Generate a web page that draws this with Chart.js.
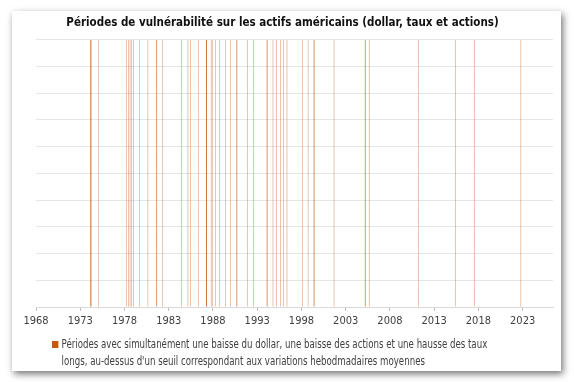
<!DOCTYPE html>
<html>
<head>
<meta charset="utf-8">
<script src="https://cdn.jsdelivr.net/npm/chart.js@4.4.0/dist/chart.umd.min.js"></script>
<style>
  body { margin: 0; background: #fff; width: 574px; height: 382px; overflow: hidden; }
  #card { position: absolute; left: 12px; top: 11px; width: 549px; height: 360px; background: #fff; box-shadow: 2px 3px 7px rgba(0,0,0,0.55); }
  #myChart { position: absolute; left: 0; top: 0; }
  #legend { position: absolute; left: 40px; top: 325px; display: flex; color: #404040; line-height: 17px; white-space: nowrap;
            font-family: 'DejaVu Sans Condensed', Roboto, sans-serif; font-size: 12px;
            transform: scaleX(0.8); transform-origin: 0 0; }
  #legend .box { flex: none; width: 8px; height: 7px; background: #C55A11; margin: 5px 4px 0 0; }
</style>
</head>
<body>
<div id="card">
  <canvas id="myChart" width="549" height="360"></canvas>
  <div id="legend"><span class="box"></span><span id="legendText"></span></div>
</div>
<script>
var title = 'Périodes de vulnérabilité sur les actifs américains (dollar, taux et actions)';
var legendLines = [
    'Périodes avec simultanément une baisse du dollar, une baisse des actions et une hausse des taux',
    'longs, au-dessus d\'un seuil correspondant aux variations hebodmadaires moyennes'
];
var tickYears = [1968, 1973, 1978, 1983, 1988, 1993, 1998, 2003, 2008, 2013, 2018, 2023];

// semaines signalées (vendredi approx.)
var weeks = [
    '1974-02-22', '1974-03-01', '1974-03-29', '1975-02-07', '1978-03-14', '1978-06-06', '1978-08-18', '1978-10-06', '1979-01-19', '1979-09-17',
    '1980-08-26', '1981-08-25', '1981-09-01', '1982-05-04', '1984-06-05', '1985-03-05', '1985-06-11', '1986-05-06', '1987-03-31', '1987-04-07',
    '1987-04-14', '1987-04-21', '1987-10-16', '1987-12-04', '1988-04-22', '1988-10-05', '1989-05-26', '1989-12-19', '1990-08-24', '1990-09-21',
    '1991-11-19', '1992-08-07', '1994-02-08', '1994-02-15', '1994-10-14', '1995-03-03', '1995-08-15', '1996-01-02', '1996-05-14', '1998-02-10',
    '1998-10-02', '1999-06-01', '1999-06-08', '2001-09-07', '2005-03-11', '2005-03-18', '2005-08-26', '2011-04-08', '2015-05-19', '2017-07-12',
    '2022-10-21'
];
var flags = [
    1, 1, 1, 1, 1, 1, 1, 1, 1, 1,
    1, 1, 1, 1, 1, 1, 1, 1, 1, 1,
    1, 1, 1, 1, 1, 1, 1, 1, 1, 1,
    1, 1, 1, 1, 1, 1, 1, 1, 1, 1,
    1, 1, 1, 1, 1, 1, 1, 1, 1, 1,
    1
];

var fontFamily = "'DejaVu Sans Condensed', Roboto, sans-serif";

function toYear(s) {
    var d = new Date(s + 'T00:00:00Z');
    var y = d.getUTCFullYear();
    var start = Date.UTC(y, 0, 1);
    var end = Date.UTC(y + 1, 0, 1);
    return y + (d.getTime() - start) / (end - start);
}

document.getElementById('legendText').innerHTML = legendLines.join('<br>');

var ctx = document.getElementById('myChart');

var data = {
    datasets: [{
        label: legendLines.join(' '),
        data: weeks.map(function (w, i) { return { x: toYear(w), y: flags[i] }; }),
        backgroundColor: '#C55A11',
        borderWidth: 0,
        barThickness: 0.35,
        inflateAmount: 0
    }]
};

var option = {
    responsive: false,
    animation: false,
    layout: { padding: { left: 0, right: 8, top: 0, bottom: 0 } },
    plugins: {
        legend: { display: false },
        tooltip: { enabled: false },
        title: {
            display: true,
            text: title,
            color: '#111',
            font: { family: fontFamily, size: 11.5, weight: 'bold' },
            padding: { top: 5, bottom: 10 }
        }
    },
    scales: {
        x: {
            type: 'linear',
            min: 1968,
            max: 2026.43,
            offset: false,
            afterBuildTicks: function (scale) {
                scale.ticks = tickYears.map(function (v) { return { value: v }; });
            },
            afterFit: function (scale) { scale.height = 64; },
            grid: { drawOnChartArea: false, drawTicks: true, tickLength: 4, color: '#BFBFBF', offset: false },
            border: { display: true, color: '#D9D9D9' },
            ticks: {
                autoSkip: false,
                maxRotation: 0,
                padding: 4,
                color: '#404040',
                font: { family: fontFamily, size: 11 },
                callback: function (v) { return String(v); }
            }
        },
        y: {
            min: 0,
            max: 1,
            ticks: { display: false, stepSize: 0.1 },
            grid: { color: '#E6E6E6', drawTicks: false },
            border: { display: false },
            afterFit: function (scale) { scale.width = 24; }
        }
    }
};

var myChart = new Chart(ctx, {
    type: 'bar',
    data: data,
    options: option
});
</script>
</body>
</html>
